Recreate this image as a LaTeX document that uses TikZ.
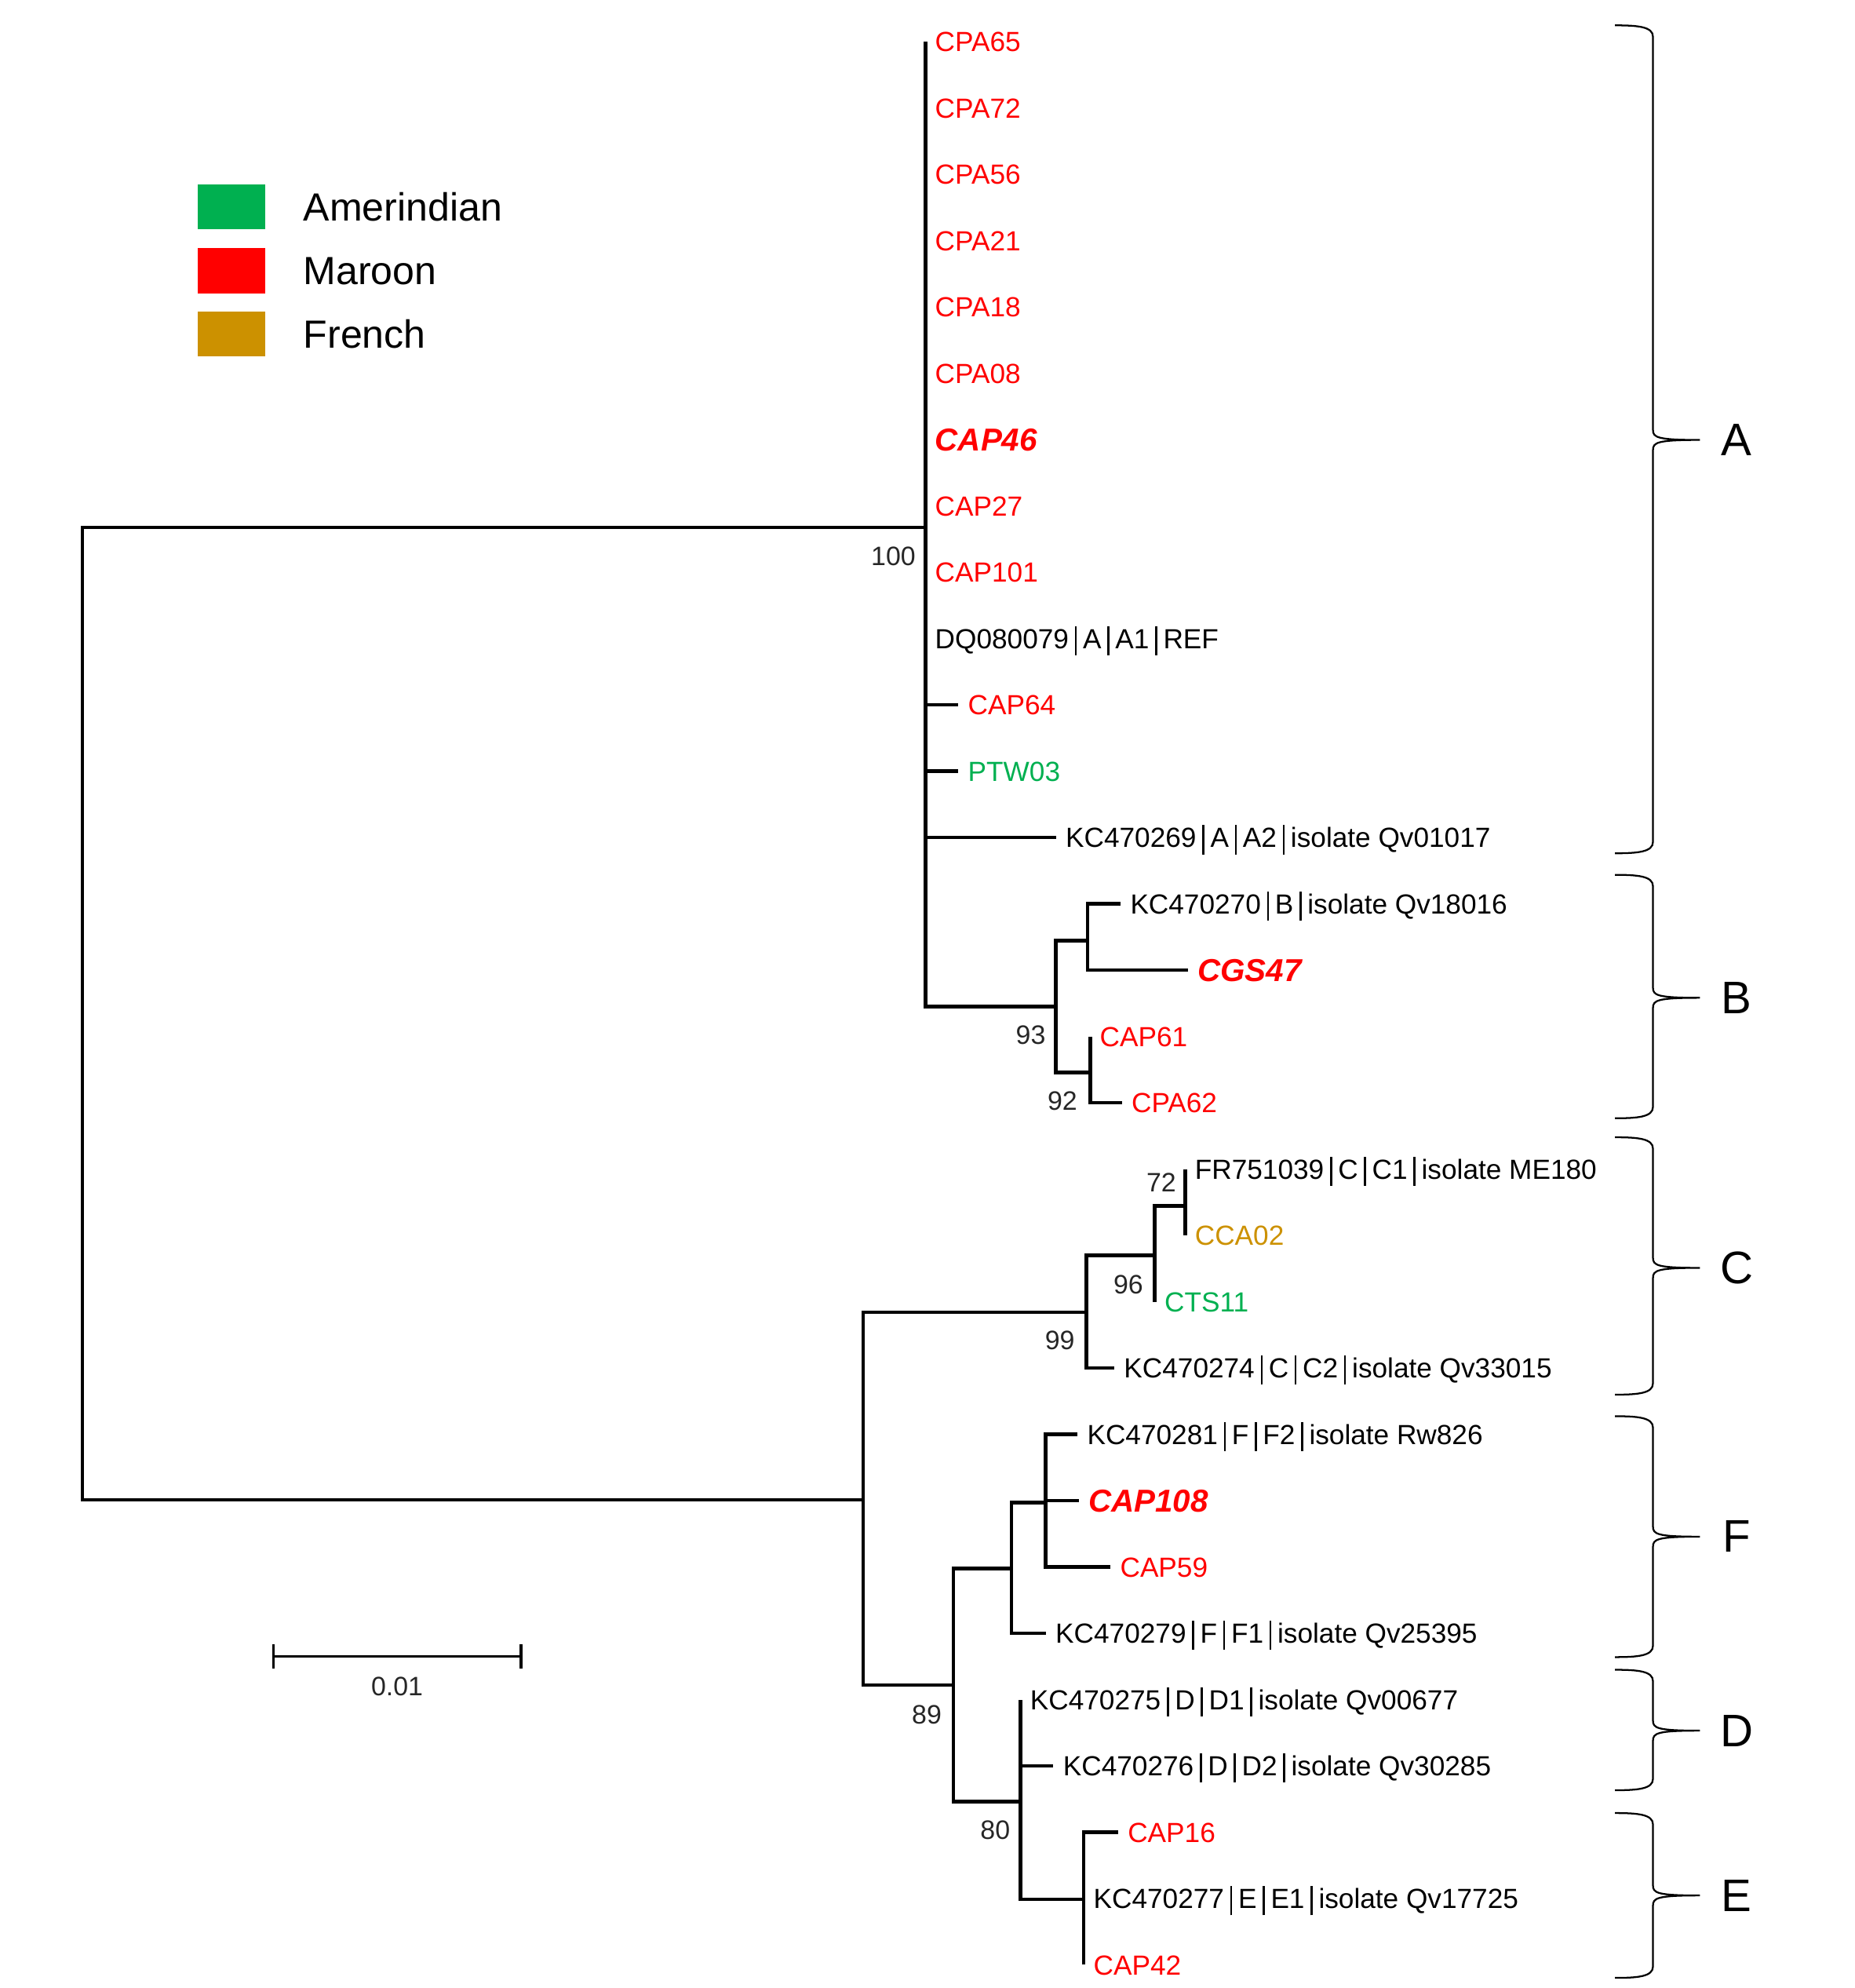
\documentclass[tikz,border=0pt]{standalone}
\usepackage{fontspec}
\setmainfont{Liberation Sans}
\usetikzlibrary{positioning, arrows.meta}

\definecolor{amerind}{RGB}{0,176,80}
\definecolor{mrnred}{RGB}{255,0,0}
\definecolor{french}{RGB}{204,145,0}

\newcommand{\sepbar}{\hspace{0.22em}\rule[-0.25em]{0.07em}{1.06em}\hspace{0.22em}}

% curly bracket for a clade: name, top, middle, bottom, letter
\newcommand{\cladebrace}[5]{%
  \draw[brace] (1274,#2) .. controls (1292,#2) and (1304,#2+1) .. (1304,#2+9)
    -- (1304,#3-8) .. controls (1304,#3-2) and (1307,#3) .. (1341,#3)
    .. controls (1307,#3) and (1304,#3+2) .. (1304,#3+8)
    -- (1304,#4-9) .. controls (1304,#4-1) and (1292,#4) .. (1274,#4);
  \node[cladelabel] (#1) at (1370,#3) {#5};
}

\tikzset{
  branch/.style={line width=2.8pt},
  taxon/.style={anchor=west, inner xsep=7.5pt, inner ysep=0pt,
    font=\fontsize{21.8pt}{26pt}\selectfont, text height=15.6pt, text depth=0pt},
  maroontx/.style={taxon, text=mrnred},
  amertx/.style={taxon, text=amerind},
  frenchtx/.style={taxon, text=french},
  keytaxon/.style={taxon, text=mrnred,
    font=\fontsize{25pt}{30pt}\selectfont\bfseries\itshape, text height=17.9pt},
  boot/.style={inner sep=0pt, font=\fontsize{21pt}{25pt}\selectfont,
    text height=15pt, text depth=0pt, text=black!85},
  brace/.style={line width=1.4pt},
  cladelabel/.style={inner sep=0pt, font=\fontsize{36pt}{40pt}\selectfont},
  keybox/.style={minimum width=53pt, minimum height=35.5pt, inner sep=0pt},
  keytext/.style={inner sep=0pt, font=\fontsize{31pt}{36pt}\selectfont,
    text height=22pt, text depth=0pt},
  scalebar/.style={line width=2.2pt, {Bar[width=19pt]}-{Bar[width=19pt]}},
}

\begin{document}
\begin{tikzpicture}[x=1pt, y=-1pt]
  \useasboundingbox (0,0) rectangle (1463,1568);

  % legend
  \node[keybox, fill=amerind] (keyAm) at (182.5,163) {};
  \node[keybox, fill=mrnred] (keyMa) at (182.5,213.5) {};
  \node[keybox, fill=french] (keyFr) at (182.5,263.5) {};
  \node[keytext, right=30pt of keyAm] (keyAmT) {Amerindian};
  \node[keytext, right=30pt of keyMa] (keyMaT) {Maroon};
  \node[keytext, right=30pt of keyFr] (keyFrT) {French};

  % internal nodes of the tree
  \coordinate (root) at (65,800);
  \coordinate (nA) at (730,416);
  \coordinate (nB) at (833,794);
  \coordinate (nB1) at (858,742);
  \coordinate (nB2) at (860,846);
  \coordinate (nCF) at (681,1183);
  \coordinate (nC) at (857,1035);
  \coordinate (n96) at (911,990);
  \coordinate (n72) at (935,951);
  \coordinate (n89) at (752,1329);
  \coordinate (nF) at (798,1237);
  \coordinate (nF2) at (825,1185);
  \coordinate (nDE) at (805,1421);
  \coordinate (nE) at (855,1498);

  % taxa
  \node[maroontx] (CPA65) at (730,33) {CPA65};
  \node[maroontx] (CPA72) at (730,85.3) {CPA72};
  \node[maroontx] (CPA56) at (730,137.6) {CPA56};
  \node[maroontx] (CPA21) at (730,189.9) {CPA21};
  \node[maroontx] (CPA18) at (730,242.2) {CPA18};
  \node[maroontx] (CPA08) at (730,294.5) {CPA08};
  \node[keytaxon] (CAP46) at (730,346.8) {CAP46};
  \node[maroontx] (CAP27) at (730,399.1) {CAP27};
  \node[maroontx] (CAP101) at (730,451.4) {CAP101};
  \node[taxon] (DQ080079) at (730,503.7) {DQ080079\sepbar A\sepbar A1\sepbar REF};
  \node[maroontx] (CAP64) at (756,556) {CAP64};
  \node[amertx] (PTW03) at (756,608.3) {PTW03};
  \node[taxon] (KC470269) at (833,660.6) {KC470269\sepbar A\sepbar A2\sepbar isolate Qv01017};
  \node[taxon] (KC470270) at (884,712.9) {KC470270\sepbar B\sepbar isolate Qv18016};
  \node[keytaxon] (CGS47) at (937,765.2) {CGS47};
  \node[maroontx] (CAP61) at (860,817.5) {CAP61};
  \node[maroontx] (CPA62) at (885,869.8) {CPA62};
  \node[taxon] (FR751039) at (935,922.1) {FR751039\sepbar C\sepbar C1\sepbar isolate ME180};
  \node[frenchtx] (CCA02) at (935,974.4) {CCA02};
  \node[amertx] (CTS11) at (911,1026.7) {CTS11};
  \node[taxon] (KC470274) at (879,1079) {KC470274\sepbar C\sepbar C2\sepbar isolate Qv33015};
  \node[taxon] (KC470281) at (850,1131.3) {KC470281\sepbar F\sepbar F2\sepbar isolate Rw826};
  \node[keytaxon] (CAP108) at (851,1183.6) {CAP108};
  \node[maroontx] (CAP59) at (876,1235.9) {CAP59};
  \node[taxon] (KC470279) at (825,1288.2) {KC470279\sepbar F\sepbar F1\sepbar isolate Qv25395};
  \node[taxon] (KC470275) at (805,1340.5) {KC470275\sepbar D\sepbar D1\sepbar isolate Qv00677};
  \node[taxon] (KC470276) at (831,1392.8) {KC470276\sepbar D\sepbar D2\sepbar isolate Qv30285};
  \node[maroontx] (CAP16) at (882,1445.1) {CAP16};
  \node[taxon] (KC470277) at (855,1497.4) {KC470277\sepbar E\sepbar E1\sepbar isolate Qv17725};
  \node[maroontx] (CAP42) at (855,1549.7) {CAP42};

  % branches
  \draw[branch] (root) |- (nA) (root) |- (nCF);
  \draw[branch] (nA) |- (CPA65.west) (nA) |- (CPA72.west) (nA) |- (CPA56.west)
    (nA) |- (CPA21.west) (nA) |- (CPA18.west) (nA) |- (CPA08.west)
    (nA) |- (CAP46.west) (nA) |- (CAP27.west) (nA) |- (CAP101.west)
    (nA) |- (DQ080079.west) (nA) |- (CAP64.west) (nA) |- (PTW03.west)
    (nA) |- (KC470269.west) (nA) |- (nB);
  \draw[branch] (nB) |- (nB1) (nB) |- (nB2);
  \draw[branch] (nB1) |- (KC470270.west) (nB1) |- (CGS47.west);
  \draw[branch] (nB2) |- (CAP61.west) (nB2) |- (CPA62.west);
  \draw[branch] (nCF) |- (nC) (nCF) |- (n89);
  \draw[branch] (nC) |- (n96) (nC) |- (KC470274.west);
  \draw[branch] (n96) |- (n72) (n96) |- (CTS11.west);
  \draw[branch] (n72) |- (FR751039.west) (n72) |- (CCA02.west);
  \draw[branch] (n89) |- (nF) (n89) |- (nDE);
  \draw[branch] (nF) |- (nF2) (nF) |- (KC470279.west);
  \draw[branch] (nF2) |- (KC470281.west) (nF2) |- (CAP108.west) (nF2) |- (CAP59.west);
  \draw[branch] (nDE) |- (KC470275.west) (nDE) |- (KC470276.west) (nDE) |- (nE);
  \draw[branch] (nE) |- (CAP16.west) (nE) |- (KC470277.west) (nE) |- (CAP42.west);

  % bootstrap values
  \node[boot, below left=14.5pt and 7.5pt of nA] (bA) {100};
  \node[boot, below left=14.5pt and 8pt of nB] (bB) {93};
  \node[boot, below left=14.5pt and 10pt of nB2] (bB2) {92};
  \node[boot, above left=11pt and 7pt of n72] (b72) {72};
  \node[boot, below left=15.5pt and 9pt of n96] (b96) {96};
  \node[boot, below left=14.5pt and 9pt of nC] (bC) {99};
  \node[boot, below left=15.5pt and 9pt of n89] (b89) {89};
  \node[boot, below left=14.5pt and 8pt of nDE] (bDE) {80};

  % clade brackets
  \cladebrace{cA}{20}{347}{673}{A}
  \cladebrace{cB}{690}{787}{882}{B}
  \cladebrace{cC}{897}{1000}{1100}{C}
  \cladebrace{cF}{1117}{1212}{1307}{F}
  \cladebrace{cD}{1317}{1365}{1412}{D}
  \cladebrace{cE}{1430}{1495}{1560}{E}

  % scale bar
  \coordinate (sbL) at (214.5,1306.5);
  \coordinate (sbR) at (412,1306.5);
  \draw[scalebar] (sbL) -- (sbR) node[midway, below=15pt, boot] (sbT) {0.01};
\end{tikzpicture}
\end{document}
